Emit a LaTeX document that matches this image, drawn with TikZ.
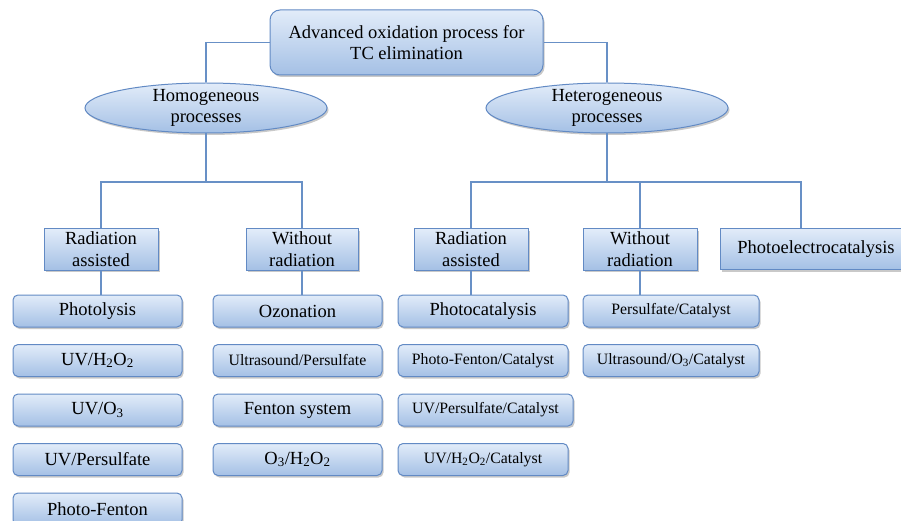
\documentclass[tikz,border=0pt]{standalone}
\usepackage{fontspec}
\setmainfont{Liberation Serif}
\usepackage{tikz}
\usetikzlibrary{positioning,shapes,shadows}
\definecolor{linec}{RGB}{104,144,198}
\definecolor{boxc}{RGB}{98,138,196}
\definecolor{topc}{RGB}{226,236,249}
\definecolor{botc}{RGB}{164,192,229}
\newcommand{\bigf}{\fontsize{18.5}{21.7}\selectfont}
\newcommand{\smallf}{\fontsize{15.8}{19}\selectfont}
\tikzstyle{edge}=[
	-,
	draw=linec,
	line width=1.4pt
]
\tikzstyle{box}=[
	rectangle,
	rounded corners=5pt,
	draw=boxc,
	line width=1pt,
	top color=topc,
	bottom color=botc,
	drop shadow={shadow xshift=1.5pt, shadow yshift=-2pt, opacity=0.3, fill=black!70},
	inner sep=0pt,
	align=center,
	font=\bigf
]
\tikzstyle{item}=[
	box,
	node distance=16.5pt,
	minimum width=169pt,
	minimum height=32pt
]
\tikzstyle{sbox}=[
	box,
	sharp corners,
	minimum width=113pt,
	minimum height=41pt
]
\tikzstyle{oval}=[
	box,
	ellipse,
	inner xsep=0pt,
	inner ysep=-4pt,
	minimum width=242pt,
	minimum height=50pt
]

\begin{document}
\begin{tikzpicture}[x=1pt,y=-1pt]
\useasboundingbox (0,0) rectangle (901,521);

\node[box, rounded corners=10pt, minimum width=273pt, minimum height=65pt] (aop) at (406.5,42.5) {Advanced oxidation process for\\TC elimination};
\node[oval] (homo) at (206,108) {Homogeneous\\processes};
\node[oval] (hetero) at (607,108) {Heterogeneous\\processes};

% homogeneous branch
\node[sbox, minimum width=114pt] (hra) at (101,249.5) {Radiation\\assisted};
\node[sbox, minimum width=112pt] (hwr) at (302,249.5) {Without\\radiation};
\node[item] (h1) at (97.5,311) {Photolysis};
\node[item, below=of h1] (h2) {UV/H\textsubscript{2}O\textsubscript{2}};
\node[item, below=of h2] (h3) {UV/O\textsubscript{3}};
\node[item, below=of h3] (h4) {UV/Persulfate};
\node[item, below=of h4] (h5) {Photo-Fenton};
\node[item] (w1) at (297.5,311) {Ozonation};
\node[item, below=of w1, font=\smallf] (w2) {Ultrasound/Persulfate};
\node[item, below=of w2] (w3) {Fenton system};
\node[item, below=of w3] (w4) {O\textsubscript{3}/H\textsubscript{2}O\textsubscript{2}};

% heterogeneous branch
\node[sbox, minimum width=114pt] (era) at (471,249.5) {Radiation\\assisted};
\node[sbox, minimum width=114pt] (ewr) at (640,249.5) {Without\\radiation};
\node[sbox, minimum width=192pt] (pec) at (816,249) {Photoelectrocatalysis};
\node[item, minimum width=170pt] (c1) at (483,311) {Photocatalysis};
\node[item, minimum width=170pt, below=of c1, font=\smallf] (c2) {Photo-Fenton/Catalyst};
\node[item, minimum width=175pt, below=of c2, xshift=2.5pt, font=\smallf] (c3) {UV/Persulfate/Catalyst};
\node[item, minimum width=170pt, below=of c3, xshift=-2.5pt, font=\smallf] (c4) {UV/H\textsubscript{2}O\textsubscript{2}/Catalyst};
\node[item, minimum width=176pt, font=\smallf] (k1) at (671,311) {Persulfate/Catalyst};
\node[item, minimum width=176pt, below=of k1, font=\smallf] (k2) {Ultrasound/O\textsubscript{3}/Catalyst};

\coordinate (hbus) at (206,182);
\coordinate (ebus) at (607,182);

\draw[edge] (aop.west) -| (homo.north);
\draw[edge] (aop.east) -| (hetero.north);

\draw[edge] (homo.south) -- (hbus);
\draw[edge] (hra.north) |- (hbus) -| (hwr.north);
\draw[edge] (hra.south) -- (hra.south |- h1.north);
\draw[edge] (hwr.south) -- (hwr.south |- w1.north);

\draw[edge] (hetero.south) -- (ebus);
\draw[edge] (era.north) |- (ebus) -| ([xshift=-15pt]pec.north);
\draw[edge] (ewr.north) -- (ewr.north |- ebus);
\draw[edge] (era.south) -- (era.south |- c1.north);
\draw[edge] (ewr.south) -- (ewr.south |- k1.north);

\end{tikzpicture}
\end{document}
